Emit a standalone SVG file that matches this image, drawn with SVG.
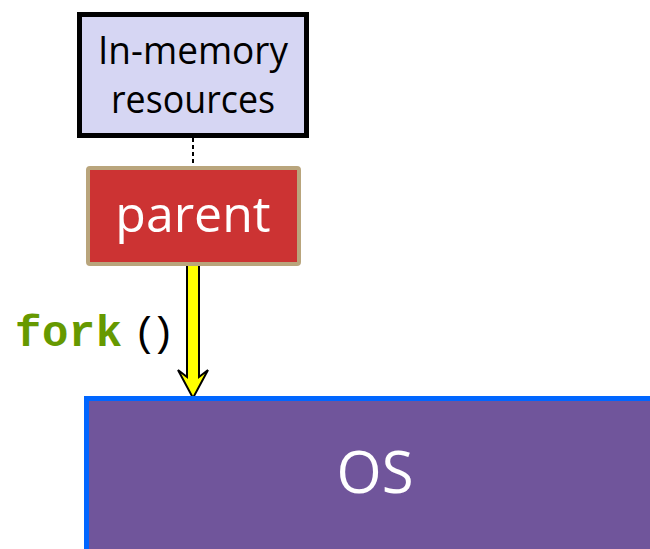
<svg xmlns="http://www.w3.org/2000/svg" width="650" height="549" viewBox="0 0 650 549">
<style>
.lbl{font-family:"Open Sans","Liberation Sans",sans-serif;text-anchor:middle}
.code{font-family:"Liberation Mono","DejaVu Sans Mono",monospace}
</style>
<rect width="650" height="549" fill="#ffffff"/>
<g id="connectors">
<line x1="193" y1="138" x2="193" y2="166" stroke="#000" stroke-width="2" stroke-dasharray="4,3"/>
<path d="M187,262 H199 V377 L208,370 L193,398 L178,370 L187,377 Z" fill="#ffff00" stroke="#000" stroke-width="2" stroke-linejoin="miter"/>
<text x="15" y="346" class="code" font-size="44" font-weight="bold" fill="#669900" letter-spacing="0.5">fork</text>
<text x="133" y="346" class="code" font-size="40" fill="#000" letter-spacing="-6">()</text>
</g>
<g id="memory">
<rect x="79.5" y="14.5" width="227" height="121" fill="#d6d6f3" stroke="#000" stroke-width="5"/>
<text x="193" y="64" class="lbl" font-size="38" fill="#000" textLength="190" lengthAdjust="spacingAndGlyphs">In-memory</text>
<text x="193" y="113" class="lbl" font-size="38" fill="#000" textLength="164" lengthAdjust="spacingAndGlyphs">resources</text>
</g>
<g id="parent">
<rect x="88" y="168" width="211" height="96" rx="2" fill="#cc3333" stroke="#b9a57c" stroke-width="4"/>
<text x="193" y="232" class="lbl" font-size="50" fill="#fff">parent</text>
</g>
<g id="os">
<rect x="86.5" y="398.5" width="570" height="160" fill="#70559b" stroke="#0066ff" stroke-width="5"/>
<text x="375" y="493" class="lbl" font-size="58" fill="#fff">OS</text>
</g>
</svg>
